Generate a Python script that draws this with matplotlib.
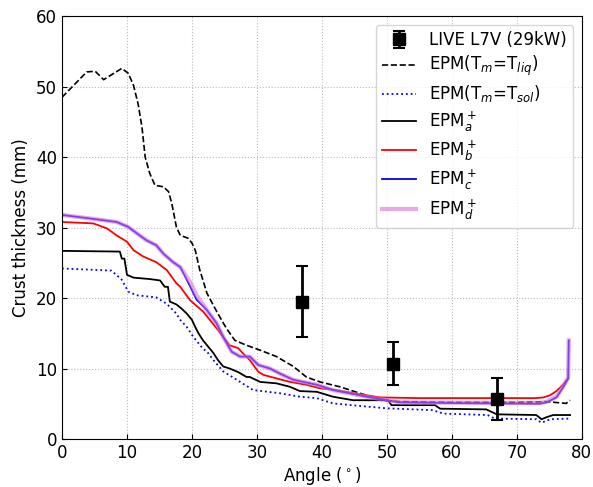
import matplotlib
matplotlib.use("Agg")
import matplotlib.pyplot as plt

# LIVE L7V measurements
live_x = [37, 51, 67]
live_y = [19.5, 10.7, 5.7]
live_err = [5.0, 3.0, 3.0]

# EPM (Tm = Tliq)
liq_x = [0, 3.8, 5.1, 6.4, 9.2, 10.2, 11, 11.7, 12.3, 12.8, 13.5, 14.3, 15.6, 16.4, 16.9,
         17.6, 18.2, 19.4, 20, 20.5, 21.2, 22.3, 23.8, 25.3, 26.6, 28.4, 30.5, 33, 35.6,
         37.6, 39.7, 42.8, 45.8, 48.4, 50, 52, 60, 70, 74.6, 77.6, 78.2]
liq_y = [48.5, 52.1, 52.2, 51.0, 52.6, 51.9, 50.2, 47.6, 44.3, 40.0, 37.7, 36.0, 35.8, 35.1, 33.4,
         30.1, 28.9, 28.5, 27.8, 26.8, 24.0, 20.7, 18.1, 15.7, 14.0, 13.3, 12.6, 11.7, 10.3,
         8.8, 8.1, 7.4, 6.5, 5.8, 5.4, 5.3, 5.2, 5.2, 5.3, 5.05, 5.5]

# EPM (Tm = Tsol)
sol_x = [0, 7.6, 9.2, 10.2, 11.5, 14.5, 16.1, 17.6, 18.2, 19.2, 20.2, 21.7, 22.3, 23.3, 24.8,
         26.9, 29.4, 33.5, 36.6, 39.2, 41.7, 46.9, 50, 57, 58.7, 65.5, 66.6, 73, 73.8, 75.1, 78.2]
sol_y = [24.2, 23.9, 22.6, 20.9, 20.4, 20.1, 19.2, 17.8, 16.9, 15.9, 14.5, 12.8, 12.4, 11.2, 9.6,
         8.4, 6.95, 6.5, 6.0, 5.8, 5.05, 4.6, 4.35, 4.1, 3.6, 3.4, 2.9, 2.8, 2.3, 2.8, 2.9]

# EPM_a+
a_x = [0, 8.9, 9.2, 9.6, 10.0, 11, 13.5, 15.1, 15.8, 16.3, 16.6, 17.6, 18.4, 19.2, 20, 20.5, 21,
       21.7, 22.5, 23.3, 24, 24.8, 25.8, 27.1, 28.4, 28.9, 30.5, 33, 35.1, 36.6, 39.2, 41.7,
       44.8, 50.2, 50.7, 57.4, 58.2, 65.3, 66.9, 73, 73.8, 74.6, 75.6, 78.2]
a_y = [26.7, 26.6, 25.6, 25.6, 23.3, 22.9, 22.7, 22.5, 21.6, 21.6, 19.5, 19.1, 18.5, 17.8, 16.9,
       15.9, 15.0, 14.0, 13.1, 12.2, 11.2, 10.3, 10.0, 9.5, 8.8, 8.8, 8.1, 7.9, 7.4, 6.8, 6.7,
       6.0, 5.5, 5.5, 4.8, 4.8, 4.3, 4.2, 3.5, 3.4, 2.8, 3.1, 3.4, 3.4]

# EPM_b+
b_x = [0, 4.8, 6.9, 8.4, 10, 11, 12.5, 14.5, 16.1, 17.6, 18.2, 19.7, 21.7, 23.8, 25.8, 27.1,
       27.8, 28.9, 30.2, 31, 33, 35.1, 37.6, 39.7, 41.7, 46.9, 49, 55, 73, 74.1, 75.1, 76.1,
       77.1, 77.9]
b_y = [30.8, 30.6, 29.9, 28.9, 28.0, 26.8, 25.9, 25.1, 24.0, 22.1, 21.6, 19.7, 18.1, 15.7, 13.3,
       12.9, 12.2, 11.2, 9.55, 9.1, 8.6, 8.1, 7.7, 7.2, 7.0, 6.2, 5.9, 5.8, 5.8, 5.9, 6.2, 6.8,
       7.7, 8.6]

# EPM_c+
c_x = [0, 4.3, 8.4, 10.2, 11.5, 13, 14.5, 15.6, 17.1, 18.2, 19.7, 20.7, 22.3, 23.8, 24.8, 26.1,
       27.4, 28.9, 30.2, 32, 33.5, 35.6, 39.2, 41.7, 46.9, 50, 52, 60, 73.5, 74.6, 76.1, 77.1,
       77.9, 78.0]
c_y = [31.8, 31.3, 30.8, 30.1, 29.2, 28.2, 27.5, 26.3, 25.1, 24.4, 21.7, 19.8, 18.3, 16.4, 14.5,
       12.4, 11.7, 11.7, 10.5, 10.0, 9.3, 8.4, 7.7, 6.95, 6.0, 5.5, 5.2, 5.1, 5.0, 5.2, 5.9, 7.3,
       8.6, 14.0]

# EPM_d+
d_x = c_x
d_y = [31.8, 31.3, 30.8, 30.1, 29.2, 28.2, 27.5, 26.3, 25.1, 24.4, 22.3, 20.4, 18.3, 16.4, 14.5,
       12.4, 11.7, 11.7, 10.5, 10.0, 9.3, 8.4, 7.7, 6.95, 6.0, 5.5, 5.2, 5.15, 5.1, 5.3, 6.0, 7.4,
       8.7, 14.0]

fig = plt.figure(figsize=(5.93, 4.87), dpi=100)
ax = fig.add_axes([0.1046, 0.0986, 0.8765, 0.868])

ax.errorbar(live_x, live_y, yerr=live_err, fmt='s', color='black', ms=9, elinewidth=2,
            capsize=4, capthick=1.5, label='LIVE L7V (29kW)', zorder=5)
ax.plot(liq_x, liq_y, '--', color='black', lw=1.2, label=r'EPM(T$_m$=T$_{liq}$)')
ax.plot(sol_x, sol_y, ':', color='blue', lw=1.3, label=r'EPM(T$_m$=T$_{sol}$)')
ax.plot(a_x, a_y, '-', color='black', lw=1.3, label=r'EPM$_a^+$')
ax.plot(b_x, b_y, '-', color='red', lw=1.3, label=r'EPM$_b^+$')
ax.plot(c_x, c_y, '-', color='blue', lw=1.3, label=r'EPM$_c^+$')
ax.plot(d_x, d_y, '-', color='orchid', lw=3, alpha=0.6, label=r'EPM$_d^+$')

ax.set_xlim(0, 80)
ax.set_ylim(0, 60)
ax.set_xticks(range(0, 81, 10))
ax.set_yticks(range(0, 61, 10))
ax.tick_params(direction='in', labelsize=12)
ax.grid(True, linestyle=':', color='#bbbbbb', lw=0.8)
ax.set_xlabel(r'Angle ($^\circ$)', fontsize=12, labelpad=2)
ax.set_ylabel('Crust thickness (mm)', fontsize=12)

handles, labels = ax.get_legend_handles_labels()
order = [labels.index('LIVE L7V (29kW)')] + [i for i, l in enumerate(labels) if l != 'LIVE L7V (29kW)']
ax.legend([handles[i] for i in order], [labels[i] for i in order],
          loc='upper right', fontsize=12, labelspacing=0.3)

fig.savefig('out.png', dpi=100)
